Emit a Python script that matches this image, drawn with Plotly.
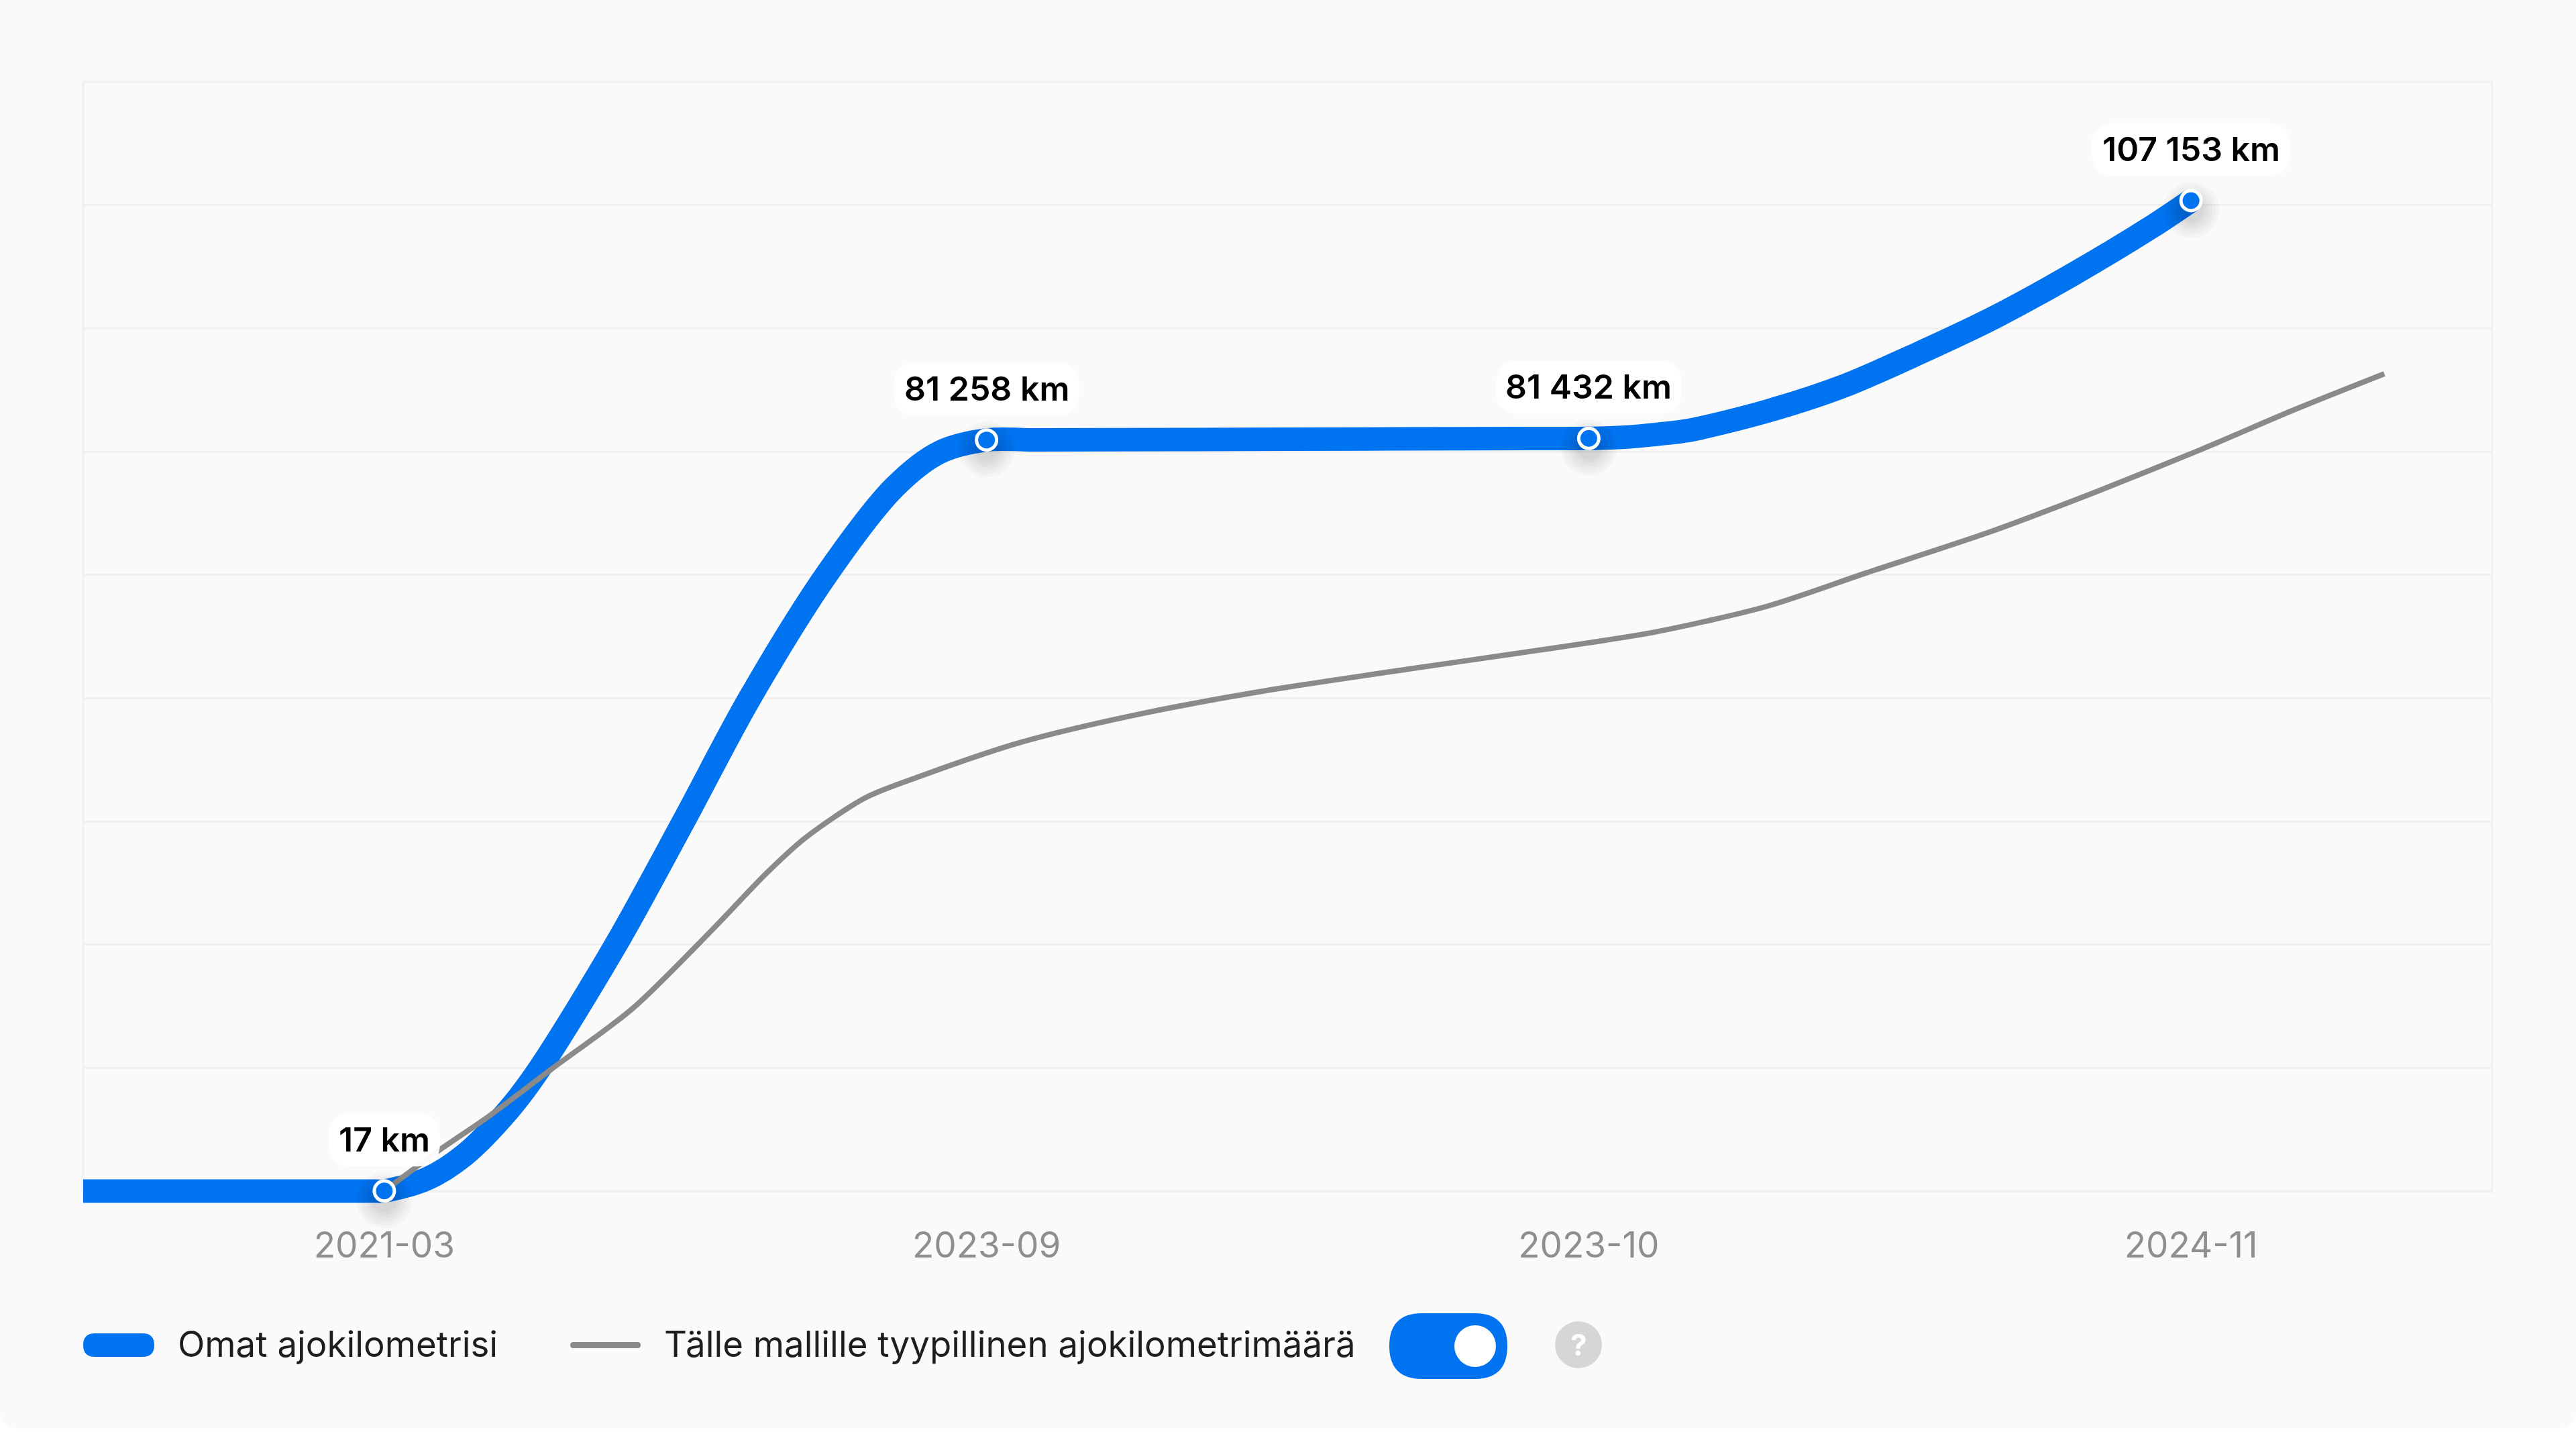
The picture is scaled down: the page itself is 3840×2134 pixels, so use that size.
import plotly.graph_objects as go

W, H = 3840, 2134
L, R, T, B = 124, 3715, 122, 1775
BELOW = 60  # extra room under the zero line so thick line and markers are not clipped

categories = ["2021-03", "2023-09", "2023-10", "2024-11"]
point_values = [17, 81258, 81432, 107153]
point_labels = ["17 km", "81 258 km", "81 432 km", "107 153 km"]
label_widths = [166, 276, 276, 295]

own_x = [-0.5, -0.1, -0.02, 0, 0.07, 0.134, 0.208, 0.258, 0.385, 0.497, 0.606, 0.735, 0.847, 0.922, 1, 1.08,
         1.5, 1.92, 2, 2.06, 2.119, 2.165, 2.293, 2.42, 2.548, 2.677, 2.805, 2.933, 3]
own_km = [0, 0, 5, 17, 1300, 3950, 8900, 13265, 26710, 40010, 53240, 66760, 76140, 79920, 81258, 81275,
          81340, 81420, 81432, 81560, 81920, 82285, 84320, 87010, 90645, 94640, 99220, 104240, 107153]

typical_x = [0, 0.089, 0.172, 0.279, 0.412, 0.543, 0.635, 0.698, 0.799, 0.893, 1.059, 1.262, 1.475,
             1.697, 1.882, 2.0, 2.11, 2.295, 2.462, 2.664, 2.85, 3.016, 3.173, 3.321]
typical_km = [17, 4325, 8030, 13265, 19735, 28165, 34415, 38160, 42560, 44955, 48590, 51715, 54260,
              56440, 58185, 59320, 60480, 63250, 66905, 71265, 75850, 80210, 84570, 88420]

series_names = ["Omat ajokilometrisi", "Tälle mallille tyypillinen ajokilometrimäärä"]

BLUE = "#0073f0"
GREY = "#8a8a8a"
GRID = "#f0f0f0"
CARD = "#fafafa"
FONT = "Inter"
Y_MAX = 120000
KM_PER_PX = Y_MAX / (B - T)
Y_MIN = -BELOW * KM_PER_PX
PLOT_H = B + BELOW - T


def px_x(v):
    return (v - L) / (R - L)


def px_y(v):
    return (B + BELOW - v) / PLOT_H


def rounded(x0, y0, x1, y1, r):
    return (f"M {x0+r} {y0} L {x1-r} {y0} Q {x1} {y0} {x1} {y0+r} L {x1} {y1-r} Q {x1} {y1} {x1-r} {y1} "
            f"L {x0+r} {y1} Q {x0} {y1} {x0} {y1-r} L {x0} {y0+r} Q {x0} {y0} {x0+r} {y0} Z")


def pill_path(x0, y0, x1, y1, r):
    fx, fy = px_x, px_y
    return (f"M {fx(x0+r)} {fy(y0)} L {fx(x1-r)} {fy(y0)} Q {fx(x1)} {fy(y0)} {fx(x1)} {fy(y0+r)} "
            f"L {fx(x1)} {fy(y1-r)} Q {fx(x1)} {fy(y1)} {fx(x1-r)} {fy(y1)} "
            f"L {fx(x0+r)} {fy(y1)} Q {fx(x0)} {fy(y1)} {fx(x0)} {fy(y1-r)} "
            f"L {fx(x0)} {fy(y0+r)} Q {fx(x0)} {fy(y0)} {fx(x0+r)} {fy(y0)} Z")


def paper_pill(x0, y0, x1, y1, color):
    return dict(type="path", xref="paper", yref="paper", layer="below", fillcolor=color, line_width=0,
                path=pill_path(x0, y0, x1, y1, (y1 - y0) / 2))


def paper_circle(cx, cy, d, color):
    return dict(type="circle", xref="paper", yref="paper", layer="below", fillcolor=color, line_width=0,
                x0=px_x(cx - d / 2), x1=px_x(cx + d / 2), y0=px_y(cy + d / 2), y1=px_y(cy - d / 2))


fig = go.Figure()
fig.add_trace(go.Scatter(x=own_x, y=own_km, name=series_names[0], mode="lines", cliponaxis=False,
                         line=dict(color=BLUE, width=35, shape="spline", smoothing=0.9), hoverinfo="skip"))
fig.add_trace(go.Scatter(x=typical_x, y=typical_km, name=series_names[1], mode="lines", cliponaxis=False,
                         line=dict(color=GREY, width=8, shape="spline", smoothing=0.8), hoverinfo="skip"))

# soft drop shadow under the point markers
idx = list(range(len(categories)))
for size in [84, 74, 64, 54, 44, 36]:
    fig.add_trace(go.Scatter(x=idx, y=[v - 14 * KM_PER_PX for v in point_values], mode="markers",
                             cliponaxis=False, showlegend=False, hoverinfo="skip",
                             marker=dict(size=size, color="rgba(0,0,0,0.022)", line_width=0)))
fig.add_trace(go.Scatter(x=idx, y=point_values, mode="markers", cliponaxis=False, showlegend=False,
                         hoverinfo="skip", marker=dict(size=30, color=BLUE, line=dict(color="white", width=5))))

shapes = [dict(type="path", xref="paper", yref="paper", layer="below", fillcolor=CARD, line_width=0,
               path=(f"M {px_x(0)} {px_y(0)} L {px_x(W)} {px_y(0)} L {px_x(W)} {px_y(2099)} "
                     f"Q {px_x(W)} {px_y(2129)} {px_x(W-30)} {px_y(2129)} L {px_x(30)} {px_y(2129)} "
                     f"Q {px_x(0)} {px_y(2129)} {px_x(0)} {px_y(2099)} Z"))]

# plot frame
shapes.append(dict(type="rect", xref="paper", yref="paper", layer="below", x0=px_x(L), x1=px_x(R),
                   y0=px_y(B), y1=px_y(T), line=dict(color=GRID, width=3), fillcolor="rgba(0,0,0,0)"))

# legend swatches, toggle and help button
shapes.append(paper_pill(124, 1987, 230, 2022, BLUE))
shapes.append(paper_pill(850, 2000, 955, 2009, GREY))
shapes.append(paper_pill(2071, 1957, 2247, 2055, BLUE))
shapes.append(paper_circle(2199, 2006, 62, "white"))
shapes.append(paper_circle(2353, 2004, 70, "#d6d6d6"))

# white rounded label backgrounds, anchored to the data points
for i, (v, w) in enumerate(zip(point_values, label_widths)):
    h = 79
    cy = 76
    shapes.append(dict(type="path", xref="x", yref="y", layer="above", xsizemode="pixel", ysizemode="pixel",
                       xanchor=i, yanchor=v, fillcolor="rgba(255,255,255,0.96)", line_width=0,
                       path=rounded(-w / 2, cy - h / 2, w / 2, cy + h / 2, 34)))

annotations = []
for i, (v, t) in enumerate(zip(point_values, point_labels)):
    annotations.append(dict(x=i, y=v, xref="x", yref="y", yshift=77, text=t, showarrow=False,
                            font=dict(family=FONT, size=50, color="#000000", weight=600),
                            xanchor="center", yanchor="middle"))
for x, t in zip([263, 988], series_names):
    annotations.append(dict(x=px_x(x), y=px_y(2003), xref="paper", yref="paper", text=t, showarrow=False,
                            font=dict(family=FONT, size=52.8, color="#1e1e1e"), xanchor="left", yanchor="middle"))
annotations.append(dict(x=px_x(2353), y=px_y(2004), xref="paper", yref="paper", text="?", showarrow=False,
                        font=dict(family=FONT, size=44, color="white", weight=700), xanchor="center", yanchor="middle"))

fig.update_layout(
    width=W, height=H, margin=dict(l=L, r=W - R, t=T, b=H - B - BELOW, autoexpand=False),
    paper_bgcolor="white", plot_bgcolor="rgba(0,0,0,0)", showlegend=False,
    shapes=shapes, annotations=annotations, font=dict(family=FONT),
    xaxis=dict(range=[-0.5, 3.5], tickmode="array", tickvals=idx, ticktext=categories, showgrid=False,
               zeroline=False, showline=False, ticks="", ticklabelstandoff=-15,
               tickfont=dict(family=FONT, size=53, color="#8f8f8f")),
    yaxis=dict(range=[Y_MIN, Y_MAX], tick0=0, dtick=Y_MAX / 9, showticklabels=False, showgrid=True, gridcolor=GRID,
               gridwidth=3, zeroline=False, showline=False, ticks=""),
)

fig.write_html("out.html", config=dict(displayModeBar=False),
               post_script="document.body.style.margin='0';document.body.style.overflow='hidden';")
